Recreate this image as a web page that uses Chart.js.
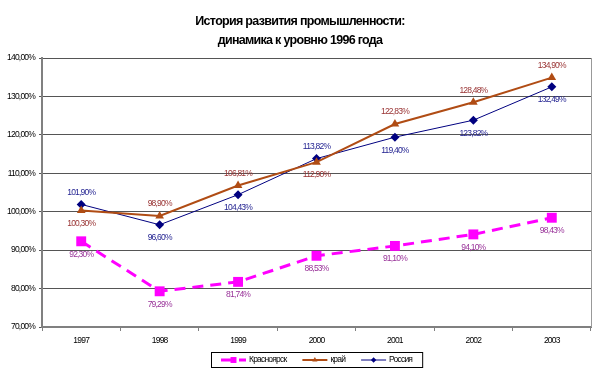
<!DOCTYPE html>
<html>
<head>
<meta charset="utf-8">
<script src="https://cdn.jsdelivr.net/npm/chart.js@4.4.1/dist/chart.umd.min.js"></script>
<style>
  body { margin: 0; background: #fff; }
  #wrap { width: 600px; height: 375px; }
</style>
</head>
<body>
<div id="wrap"><canvas id="industryChart" width="600" height="375"></canvas></div>
<script>
const years = ['1997', '1998', '1999', '2000', '2001', '2002', '2003'];
const krasnoyarsk = [92.30, 79.29, 81.74, 88.53, 91.10, 94.10, 98.43];
const krai = [100.30, 98.90, 106.81, 112.90, 122.83, 128.48, 134.90];
const russia = [101.90, 96.60, 104.43, 113.82, 119.40, 123.82, 132.49];

// where each value label sits relative to its point
const krasnoyarskLabelPos = ['down', 'down', 'down', 'down', 'down', 'down', 'down'];
const kraiLabelPos = ['down', 'up', 'up', 'down', 'up', 'up', 'up'];
const russiaLabelPos = ['up', 'down', 'down', 'up', 'down', 'down', 'down'];

const titleLines = ['История развития промышленности:', 'динамика к уровню 1996 года'];

const FONT = '"Liberation Sans", Arial, sans-serif';
const SMALL = 8.5;
const SMALL_SPACING = '-0.8px';

function pct(v) {
  return v.toFixed(2).replace('.', ',') + '%';
}

// the original uses a narrow font, squeeze letters a bit
const narrowText = {
  id: 'narrowText',
  beforeDraw(chart) {
    chart.ctx.letterSpacing = SMALL_SPACING;
  }
};

const valueLabels = {
  id: 'valueLabels',
  afterDatasetsDraw(chart) {
    const ctx = chart.ctx;
    ctx.save();
    ctx.letterSpacing = SMALL_SPACING;
    ctx.font = SMALL + 'px ' + FONT;
    ctx.textAlign = 'center';
    ctx.textBaseline = 'middle';
    chart.data.datasets.forEach((ds, i) => {
      const meta = chart.getDatasetMeta(i);
      ctx.fillStyle = ds.labelColor;
      meta.data.forEach((pt, j) => {
        const dy = ds.labelPos[j] === 'up' ? -12 : 13;
        ctx.fillText(pct(ds.data[j]), pt.x, pt.y + dy);
      });
    });
    ctx.restore();
  }
};

const frameAndLegend = {
  id: 'frameAndLegend',
  afterDraw(chart) {
    const ctx = chart.ctx;
    const a = chart.chartArea;
    ctx.save();
    // right border of plot area
    ctx.strokeStyle = '#999';
    ctx.lineWidth = 1;
    ctx.beginPath();
    ctx.moveTo(a.right + 0.5, a.top);
    ctx.lineTo(a.right + 0.5, a.bottom);
    ctx.stroke();

    // title
    ctx.letterSpacing = '-0.7px';
    ctx.font = 'bold 12.5px ' + FONT;
    ctx.fillStyle = '#000';
    ctx.textAlign = 'center';
    ctx.textBaseline = 'middle';
    ctx.fillText(titleLines[0], 300, 22);
    ctx.fillText(titleLines[1], 300, 41);

    // legend
    ctx.letterSpacing = SMALL_SPACING;
    ctx.font = SMALL + 'px ' + FONT;
    ctx.textAlign = 'left';
    const sample = 25;
    const items = chart.data.datasets.map(ds => ({ ds, w: sample + 3 + ctx.measureText(ds.label).width }));
    const gap = 16;
    const pad = 10;
    const total = items.reduce((s, it) => s + it.w, 0) + gap * (items.length - 1) + pad * 2;
    let x = Math.round((a.left + a.right) / 2 - total / 2);
    const top = 352, h = 15;
    ctx.strokeStyle = '#000';
    ctx.lineWidth = 1;
    ctx.strokeRect(x + 0.5, top + 0.5, total, h);
    const cy = top + h / 2 + 0.5;
    x += pad;
    items.forEach(it => {
      const ds = it.ds;
      ctx.strokeStyle = ds.borderColor;
      ctx.lineWidth = ds.borderWidth;
      ctx.setLineDash(ds.borderDash || []);
      ctx.beginPath();
      ctx.moveTo(x, cy);
      ctx.lineTo(x + sample, cy);
      ctx.stroke();
      ctx.setLineDash([]);
      ctx.fillStyle = ds.backgroundColor;
      Chart.helpers.drawPoint(ctx, {
        pointStyle: ds.pointStyle,
        radius: ds.pointRadius * 0.6,
        borderWidth: 0
      }, x + sample / 2, cy);
      ctx.fillStyle = '#000';
      ctx.fillText(ds.label, x + sample + 3, cy);
      x += it.w + gap;
    });
    ctx.restore();
  }
};

const ctx = document.getElementById('industryChart').getContext('2d');

new Chart(ctx, {
  type: 'line',
  data: {
    labels: years,
    datasets: [
      {
        label: 'Красноярск',
        data: krasnoyarsk,
        labelPos: krasnoyarskLabelPos,
        labelColor: '#993399',
        borderColor: '#FF00FF',
        backgroundColor: '#FF00FF',
        borderWidth: 3,
        borderDash: [11, 7],
        pointStyle: 'rect',
        pointRadius: 7,
        pointBorderWidth: 0,
        tension: 0
      },
      {
        label: 'край',
        data: krai,
        labelPos: kraiLabelPos,
        labelColor: '#993333',
        borderColor: '#B04C14',
        backgroundColor: '#B04C14',
        borderWidth: 2,
        pointStyle: 'triangle',
        pointRadius: 5,
        pointBorderWidth: 0,
        tension: 0
      },
      {
        label: 'Россия',
        data: russia,
        labelPos: russiaLabelPos,
        labelColor: '#1F1F8F',
        borderColor: '#000080',
        backgroundColor: '#000080',
        borderWidth: 1,
        pointStyle: 'rectRot',
        pointRadius: 4.5,
        pointBorderWidth: 0,
        tension: 0
      }
    ]
  },
  options: {
    responsive: false,
    animation: false,
    layout: { padding: { left: 0, right: 9, top: 58, bottom: 28 } },
    plugins: {
      legend: { display: false },
      tooltip: { enabled: false },
      title: { display: false }
    },
    scales: {
      x: {
        offset: true,
        grid: { display: true, drawOnChartArea: false, drawTicks: true, tickLength: 4, offset: true, color: '#808080' },
        border: { color: '#808080', width: 2 },
        ticks: { color: '#000', font: { family: FONT, size: SMALL }, padding: 5 },
        afterFit(scale) { scale.height = 20; }
      },
      y: {
        min: 70,
        max: 140,
        grid: { color: '#555', lineWidth: 1, tickLength: 3 },
        border: { color: '#808080', width: 2 },
        ticks: {
          stepSize: 10,
          color: '#000',
          font: { family: FONT, size: SMALL },
          padding: 4,
          callback: v => pct(v)
        },
        afterFit(scale) { scale.width = 42; }
      }
    }
  },
  plugins: [narrowText, valueLabels, frameAndLegend]
});
</script>
</body>
</html>
